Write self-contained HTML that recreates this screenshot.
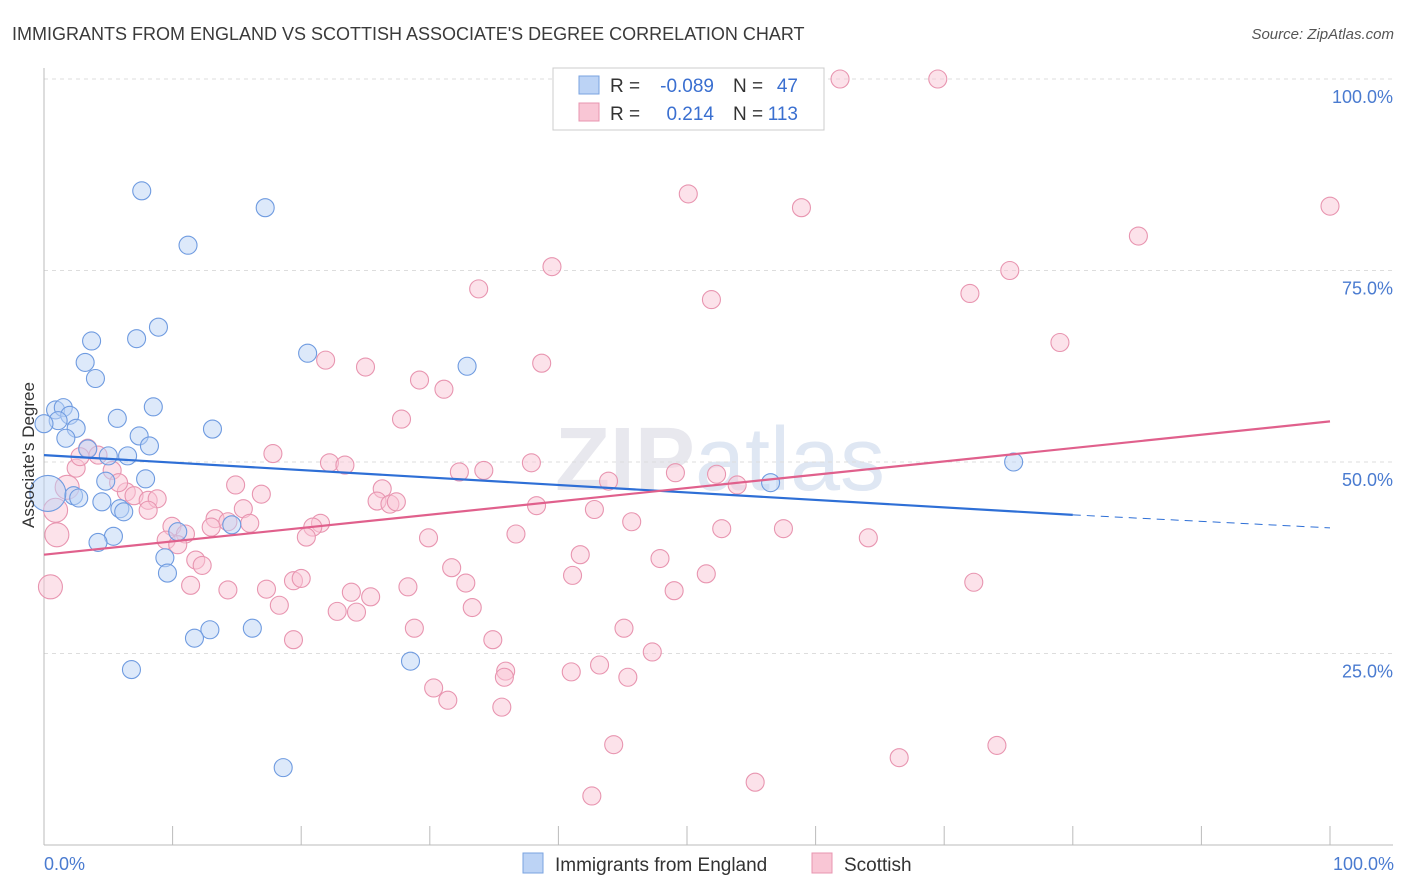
<!DOCTYPE html>
<html><head><meta charset="utf-8"><style>
body{margin:0;background:#fff;font-family:"Liberation Sans",sans-serif}
svg{display:block}
</style></head><body>
<svg width="1406" height="892">
<text x="12" y="40" font-size="18" fill="#3a3a3a">IMMIGRANTS FROM ENGLAND VS SCOTTISH ASSOCIATE'S DEGREE CORRELATION CHART</text>
<text x="1394" y="39" font-size="15" fill="#555" font-style="italic" text-anchor="end">Source: ZipAtlas.com</text>
<text x="720" y="490" font-size="90" fill="#e8e8ee" text-anchor="middle" font-weight="bold">ZIP<tspan fill="#dfe7f3" font-weight="normal">atlas</tspan></text>
<g id="grid"></g>
<g id="axes"></g>
<g id="marks"></g>
<text transform="translate(34,455) rotate(-90)" font-size="17" fill="#333" text-anchor="middle">Associate's Degree</text>
<text x="44" y="870" font-size="18" fill="#4a7bd0">0.0%</text>
<text x="1394" y="870" font-size="18" fill="#4a7bd0" text-anchor="end">100.0%</text>
<g>
<rect x="553" y="68" width="271" height="62" fill="#fff" stroke="#ccc"/>
<rect x="579" y="76" width="20" height="18" fill="#bcd3f5" stroke="#7aa3e0"/>
<rect x="579" y="103" width="20" height="18" fill="#f9c6d5" stroke="#e895b0"/>
<text x="610" y="92" font-size="19" fill="#333">R =</text>
<text x="714" y="92" font-size="19" fill="#3a6fd0" text-anchor="end">-0.089</text>
<text x="733" y="92" font-size="19" fill="#333">N =</text>
<text x="798" y="92" font-size="19" fill="#3a6fd0" text-anchor="end">47</text>
<text x="610" y="120" font-size="19" fill="#333">R =</text>
<text x="714" y="120" font-size="19" fill="#3a6fd0" text-anchor="end">0.214</text>
<text x="733" y="120" font-size="19" fill="#333">N =</text>
<text x="798" y="120" font-size="19" fill="#3a6fd0" text-anchor="end">113</text>
</g>
<g>
<rect x="523" y="853" width="20" height="20" fill="#bcd3f5" stroke="#7aa3e0"/>
<text x="555" y="871" font-size="19" fill="#333">Immigrants from England</text>
<rect x="812" y="853" width="20" height="20" fill="#f9c6d5" stroke="#e895b0"/>
<text x="844" y="871" font-size="19" fill="#333">Scottish</text>
</g>
</svg>
<script>
const yTicks=[25,50,75,100];
const yTickLabels=["25.0%","50.0%","75.0%","100.0%"];
const xTicks=[0,10,20,30,40,50,60,70,80,90,100];
const blueX=[7.6,17.2,11.2,8.9,7.2,3.7,3.2,4.0,20.5,32.9,0.9,1.5,2.0,1.1,2.5,1.7,5.7,8.5,13.1,7.4,8.2,3.4,5.0,6.5,7.9,4.8,2.3,2.7,4.5,5.9,6.2,5.4,4.2,10.4,14.6,9.4,9.6,12.9,11.7,16.2,6.8,28.5,18.6,56.5,75.4,0.3,0.0];
const blueY=[85.4,83.2,78.3,67.6,66.1,65.8,63.0,60.9,64.2,62.5,56.8,57.1,56.1,55.4,54.4,53.1,55.7,57.2,54.3,53.4,52.1,51.7,50.8,50.8,47.8,47.5,45.6,45.3,44.8,43.9,43.5,40.3,39.5,40.9,41.8,37.5,35.5,28.1,27.0,28.3,22.9,24.0,10.1,47.3,50.0,45.9,55.0];
const pinkX=[61.9,69.5,50.1,58.9,100,85.1,39.5,75.1,33.8,51.9,72.0,79.0,21.9,25.0,38.7,29.2,31.1,27.8,3.4,4.2,2.5,5.3,2.8,17.8,22.2,23.4,37.9,32.3,34.2,49.1,52.3,53.9,43.9,14.9,16.9,26.3,25.9,26.9,27.4,38.3,42.8,6.4,7.0,8.1,8.8,5.8,1.8,0.9,8.1,15.5,13.3,14.3,16.0,21.5,45.7,9.95,11.0,20.9,20.4,13.0,1.0,9.5,10.4,36.7,52.7,57.5,64.1,29.9,41.7,47.9,11.8,12.3,31.7,41.1,51.5,19.4,20.0,17.3,11.4,14.3,32.8,28.3,23.9,25.4,49.0,72.3,0.5,18.3,22.8,24.3,33.3,28.8,45.1,47.3,19.4,34.9,35.9,41.0,43.2,35.8,45.4,30.3,31.4,35.6,44.3,74.1,66.5,55.3,42.6];
const pinkY=[100,100,85.0,83.2,83.4,79.5,75.5,75.0,72.6,71.2,72.0,65.6,63.3,62.4,62.9,60.7,59.5,55.6,51.8,50.9,49.2,48.9,50.7,51.1,49.9,49.6,49.9,48.7,48.9,48.6,48.4,47.0,47.5,47.0,45.8,46.5,44.9,44.5,44.8,44.3,43.8,46.1,45.6,45.0,45.2,47.3,46.7,43.7,43.7,43.9,42.6,42.2,42.0,42.0,42.2,41.6,40.6,41.5,40.2,41.5,40.5,39.8,39.2,40.6,41.3,41.3,40.1,40.1,37.9,37.4,37.2,36.5,36.2,35.2,35.4,34.5,34.8,33.4,33.9,33.3,34.2,33.7,33.0,32.4,33.2,34.3,33.7,31.3,30.5,30.4,31.0,28.3,28.3,25.2,26.8,26.8,22.7,22.6,23.5,21.9,21.9,20.5,18.9,18.0,13.1,13.0,11.4,8.2,6.4];
const blueLine=[[0,50.9],[80,43.1]], blueDash=[[80,43.1],[100,41.4]];
const pinkLine=[[0,37.9],[100,55.3]];
const NS="http://www.w3.org/2000/svg";
const X=v=>44+v*12.86, Y=v=>845-v*7.66;
function mk(p,t,a){const e=document.createElementNS(NS,t);for(const k in a)e.setAttribute(k,a[k]);document.getElementById(p).appendChild(e);return e;}
yTicks.forEach((t,i)=>{
 const l=mk('grid','line',{x1:44,x2:1393,y1:Y(t),y2:Y(t),stroke:'#ddd','stroke-dasharray':'4,4'});
 
 
 const tx=mk('grid','text',{x:1393,y:Y(t)+24,'font-size':18,fill:'#4a7bd0','text-anchor':'end'});
 tx.textContent=yTickLabels[i];
 
 
});
const ax=mk('axes','line',{x1:44,x2:44,y1:68,y2:845,stroke:'#bbb'});


const bx=mk('axes','line',{x1:44,x2:1393,y1:845,y2:845,stroke:'#bbb'});


xTicks.forEach(t=>{const l=mk('axes','line',{x1:X(t),x2:X(t),y1:826,y2:845,stroke:'#bbb'});
 
 });
function pts(xs,ys,fill,stroke,name){xs.forEach((x,i)=>{
 let r=9;
 if(name==='blue-point'&&i===45) r=18;
 if(name==='pink-point'&&(i===47||i===60||i===46||i===86)) r=12;
 const c=mk('marks','circle',{cx:X(x),cy:Y(ys[i]),r:r,fill:fill,stroke:stroke,'stroke-width':1.1,'fill-opacity':0.5});
 
 });}
pts(pinkX,pinkY,'#f9c6d5','#e895b0','pink-point');
pts(blueX,blueY,'#bcd3f5','#6f9be0','blue-point');
function ln(d,col,dash,name){const l=mk('marks','line',{x1:X(d[0][0]),y1:Y(d[0][1]),x2:X(d[1][0]),y2:Y(d[1][1]),stroke:col,'stroke-width':dash?1:2.2,'stroke-dasharray':dash||'none'});
 
 }
ln(blueLine,'#2e6fd6',null,'england-trendline');
ln(blueDash,'#2e6fd6','8,6','england-trendline-extension');
ln(pinkLine,'#e0608c',null,'scottish-trendline');
</script>
</body></html>
